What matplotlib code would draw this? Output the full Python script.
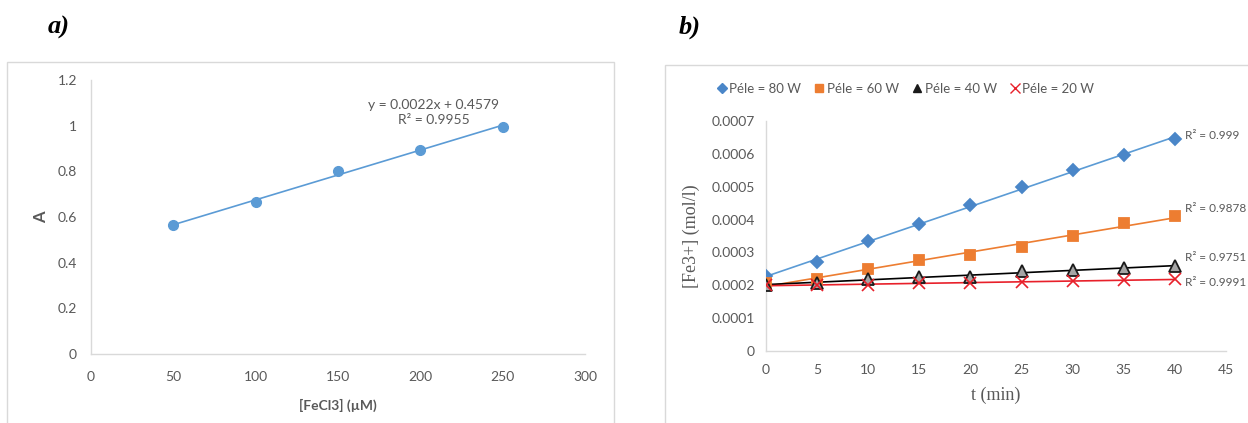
import numpy as np
import matplotlib
matplotlib.use('Agg')
import matplotlib.pyplot as plt
from matplotlib.patches import Rectangle
from matplotlib.lines import Line2D

# panel a data
fecl3 = [50, 100, 150, 200, 250]
absorb = [0.565, 0.665, 0.80, 0.895, 0.995]
eq_text = 'y = 0.0022x + 0.4579\nR² = 0.9955'

# panel b data
t_min = [0, 5, 10, 15, 20, 25, 30, 35, 40]
fe_80 = [2.28e-4, 2.71e-4, 3.36e-4, 3.86e-4, 4.44e-4, 4.98e-4, 5.51e-4, 5.97e-4, 6.45e-4]
fe_60 = [2.06e-4, 2.19e-4, 2.50e-4, 2.76e-4, 2.93e-4, 3.17e-4, 3.50e-4, 3.89e-4, 4.10e-4]
fe_40 = [2.02e-4, 2.08e-4, 2.19e-4, 2.24e-4, 2.26e-4, 2.42e-4, 2.47e-4, 2.53e-4, 2.58e-4]
fe_20 = [2.00e-4, 2.02e-4, 2.02e-4, 2.06e-4, 2.06e-4, 2.10e-4, 2.14e-4, 2.15e-4, 2.19e-4]
labels_b = ['Péle = 80 W', 'Péle = 60 W', 'Péle = 40 W', 'Péle = 20 W']
r2_b = ['R² = 0.999', 'R² = 0.9878', 'R² = 0.9751', 'R² = 0.9991']
r2_y = [6.57e-4, 4.35e-4, 2.86e-4, 2.07e-4]

plt.rcParams['font.family'] = ['Lato', 'DejaVu Sans']
tick_col = '#595959'
grid_col = '#D9D9D9'

fig = plt.figure(figsize=(12.48, 4.23), dpi=100)

# chart frames
fig.patches.append(Rectangle((0.0056, -0.01), 0.4864, 0.8634, transform=fig.transFigure,
                             fill=False, edgecolor=grid_col, lw=1))
fig.patches.append(Rectangle((0.5329, -0.01), 0.48, 0.8563, transform=fig.transFigure,
                             fill=False, edgecolor=grid_col, lw=1))

fig.text(0.038, 0.935, 'a)', family='Liberation Serif', fontsize=19,
         fontweight='bold', style='italic', ha='left', va='center')
fig.text(0.5435, 0.935, 'b)', family='Liberation Serif', fontsize=19,
         fontweight='bold', style='italic', ha='left', va='center')


def style_axes(ax):
    for s in ['top', 'right']:
        ax.spines[s].set_visible(False)
    for s in ['left', 'bottom']:
        ax.spines[s].set_color(grid_col)
        ax.spines[s].set_linewidth(1)
    ax.tick_params(length=0, colors=tick_col, labelsize=10)


# ---- panel a ----
ax1 = fig.add_axes([0.0729, 0.1631, 0.3958, 0.6478])
style_axes(ax1)
ax1.tick_params(axis='y', pad=10)
ax1.tick_params(axis='x', pad=12)
blue = '#5B9BD5'
ax1.plot(fecl3, absorb, 'o', color=blue, ms=7, zorder=3)
k, b = np.polyfit(fecl3, absorb, 1)
xs = np.array([fecl3[0], fecl3[-1]])
ax1.plot(xs, k * xs + b, '-', color=blue, lw=1.2)
ax1.set_xlim(0, 300)
ax1.set_ylim(0, 1.2)
ax1.set_xticks(range(0, 301, 50))
ax1.set_yticks([0, 0.2, 0.4, 0.6, 0.8, 1, 1.2])
ax1.set_yticklabels(['0', '0.2', '0.4', '0.6', '0.8', '1', '1.2'])
ax1.text(208, 1.058, eq_text, ha='center', va='center', color=tick_col, fontsize=10,
         linespacing=1.3)
ax1.set_xlabel('[FeCl3] (µM)', color=tick_col, fontsize=10, fontweight='bold', labelpad=12)
ax1.set_ylabel('A', color=tick_col, fontsize=12, fontweight='bold', labelpad=6)

# ---- panel b ----
ax2 = fig.add_axes([0.6138, 0.1702, 0.3686, 0.5437])
style_axes(ax2)
ax2.tick_params(axis='y', pad=8)
ax2.tick_params(axis='x', pad=9)

series = [
    (fe_80, 'D', '#4A86C8', '#4A86C8', '#5B9BD5', 6.5),
    (fe_60, 's', '#ED7D31', '#ED7D31', '#ED7D31', 7),
    (fe_40, '^', '#A5A5A5', '#1A1A1A', '#000000', 8),
    (fe_20, 'x', 'none', '#E8202A', '#E8202A', 9),
]
handles = []
for (vals, mk, fc, ec, lc, ms), lab in zip(series, labels_b):
    c, d = np.polyfit(t_min, vals, 1)
    tt = np.array([t_min[0], t_min[-1]])
    ax2.plot(tt, c * tt + d, '-', color=lc, lw=1.2, zorder=2)
    ax2.plot(t_min, vals, mk, mfc=fc, mec=ec, ms=ms, mew=1.3 if mk != 'x' else 1.2,
             zorder=3, linestyle='none')
    handles.append(Line2D([], [], marker=mk, mfc=ec if mk != 'x' else 'none', mec=ec,
                          ms=ms * 0.75, linestyle='none', label=lab))

for txt, yy in zip(r2_b, r2_y):
    ax2.text(41.0, yy, txt, ha='left', va='center', color=tick_col, fontsize=8.5)

ax2.set_xlim(0, 45)
ax2.set_ylim(0, 0.0007)
ax2.set_xticks(range(0, 46, 5))
ax2.set_yticks(np.arange(0, 0.00071, 0.0001))
ax2.set_yticklabels(['0', '0.0001', '0.0002', '0.0003', '0.0004', '0.0005', '0.0006', '0.0007'])
ax2.set_xlabel('t (min)', family='Liberation Serif', color=tick_col, fontsize=13, labelpad=8)
ax2.set_ylabel('[Fe3+] (mol/l)', family='Liberation Serif', color=tick_col, fontsize=13,
               labelpad=8)

fig.legend(handles=handles, loc='center', bbox_to_anchor=(0.725, 0.79), ncol=4,
           frameon=False, fontsize=9.5, handletextpad=0.05, columnspacing=0.9,
           handlelength=1.0, labelcolor=tick_col)

plt.savefig('out.png', dpi=100)
